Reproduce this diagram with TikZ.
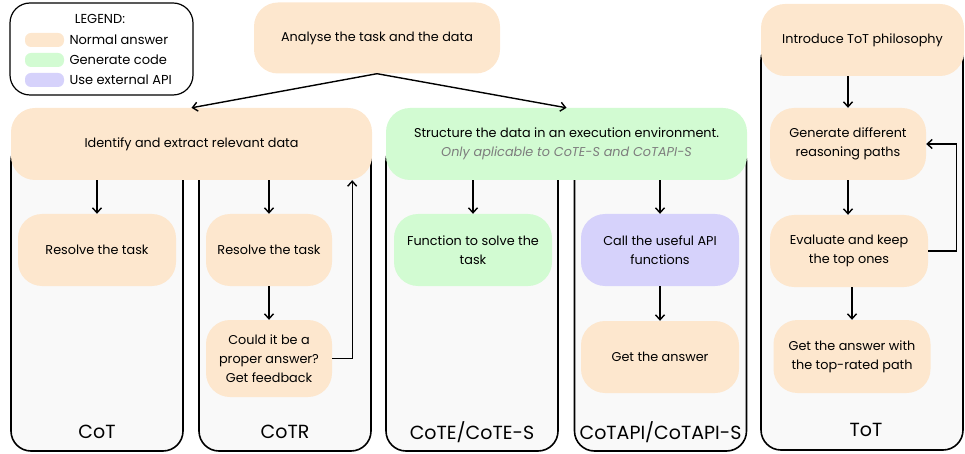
\documentclass[tikz,border=0pt]{standalone}
\usepackage{fontspec}
\setmainfont{Poppins}
\usetikzlibrary{positioning, arrows.meta}
\definecolor{answer}{RGB}{253,231,206}
\definecolor{code}{RGB}{210,251,210}
\definecolor{api}{RGB}{214,210,251}
\definecolor{lanebg}{RGB}{249,249,249}
\definecolor{note}{RGB}{125,125,125}
\begin{document}
\begin{tikzpicture}[x=1pt, y=-1pt,
  every node/.style={font=\fontsize{12.8}{19}\selectfont},
  box/.style={align=center, inner sep=2pt, rounded corners=24pt, minimum height=72pt},
  answer/.style={box, fill=answer},
  code/.style={box, fill=code},
  api/.style={box, fill=api},
  lane/.style={draw, line width=1.6pt, fill=lanebg, rounded corners=20pt, minimum width=172pt, minimum height=310pt, inner sep=0pt},
  lanetitle/.style={font=\fontsize{19}{22}\selectfont},
  legendtext/.style={font=\fontsize{13}{16}\selectfont},
  swatch/.style={rounded corners=6pt, minimum width=39pt, minimum height=14pt, inner sep=0pt},
  arr/.style={-{Straight Barb[length=5pt, width=9pt]}, line width=1.4pt}
]
\useasboundingbox (0,0) rectangle (965,454);
% lanes
\node[lane] (cot)    at (97, 296)  {};
\node[lane] (cotr)   at (285, 296) {};
\node[lane] (cote)   at (472, 296) {};
\node[lane] (cotapi) at (660.5, 296) {};
\node[lane, minimum width=202pt, minimum height=410pt] (tot) at (862, 245) {};
\node[lanetitle] (tcot)    at (97, 432)  {CoT};
\node[lanetitle] (tcotr)   at (285, 432) {CoTR};
\node[lanetitle] (tcote)   at (472, 432) {CoTE/CoTE-S};
\node[lanetitle] (tcotapi) at (660.5, 432) {CoTAPI/CoTAPI-S};
\node[lanetitle] (ttot)    at (866, 430) {ToT};
% legend
\node[draw, line width=1.2pt, rounded corners=20pt, minimum width=183pt, minimum height=92pt] (legend) at (101.5, 49) {};
\node[legendtext] (legtitle) at (100, 19) {LEGEND:};
\node[swatch, fill=answer] (swans)  at (44.5, 40) {};
\node[swatch, fill=code]   (swcode) at (44.5, 60) {};
\node[swatch, fill=api]    (swapi)  at (44.5, 80) {};
\node[legendtext, anchor=west] (legans)  at (66, 40) {Normal answer};
\node[legendtext, anchor=west] (legcode) at (66, 60) {Generate code};
\node[legendtext, anchor=west] (legapi)  at (66, 80) {Use external API};
% shared steps
\node[answer, minimum width=246pt, minimum height=71pt] (analyse) at (377, 38) {Analyse the task and the data};
\node[answer, minimum width=361pt] (identify) at (191.5, 144) {Identify and extract relevant data};
\node[code, minimum width=361pt] (structure) at (566.5, 144)
  {Structure the data in an execution environment.\\{\color{note}\itshape Only aplicable to CoTE-S and CoTAPI-S}};
% CoT / CoTR
\node[answer, minimum width=158pt] (resolve)  at (97, 250)  {Resolve the task};
\node[answer, minimum width=126pt] (resolver) at (269, 250) {Resolve the task};
\node[answer, minimum width=126pt, minimum height=77pt] (could) at (269, 358.5) {Could it be a\\proper answer?\\Get feedback};
% CoTE / CoTAPI
\node[code, minimum width=158pt] (func) at (473, 250) {Function to solve the\\task};
\node[api, minimum width=158pt]  (call) at (660, 250) {Call the useful API\\functions};
\node[answer, minimum width=158pt] (getans) at (660, 357) {Get the answer};
% ToT
\node[answer, minimum width=203pt] (intro) at (862.5, 40) {Introduce ToT philosophy};
\node[answer, minimum width=156pt] (gen)  at (848, 144) {Generate different\\reasoning paths};
\node[answer, minimum width=158pt] (eval) at (849, 251) {Evaluate and keep\\the top ones};
\node[answer, minimum width=157pt, minimum height=73pt] (best) at (852, 356.5) {Get the answer with\\the top-rated path};
% connectors
\draw[arr] (analyse.south) -- (identify.north);
\draw[arr] (analyse.south) -- (structure.north);
\draw[arr] (identify.south -| resolve) -- (resolve);
\draw[arr] (identify.south -| resolver) -- (resolver);
\draw[arr] (resolver) -- (could);
\draw[arr] (could.east) -- ++(20,0) coordinate (fbcotr) -- (fbcotr |- identify.south);
\draw[arr] (structure.south -| func) -- (func);
\draw[arr] (structure.south -| call) -- (call);
\draw[arr] (call) -- (getans);
\draw[arr] (intro.south -| gen) -- (gen);
\draw[arr] (gen) -- (gen |- eval.north);
\draw[arr] (eval.south -| best) -- (best);
\draw[arr] (eval.east) -- ++(28,0) coordinate (fbtot) |- (gen.east);
\end{tikzpicture}
\end{document}
